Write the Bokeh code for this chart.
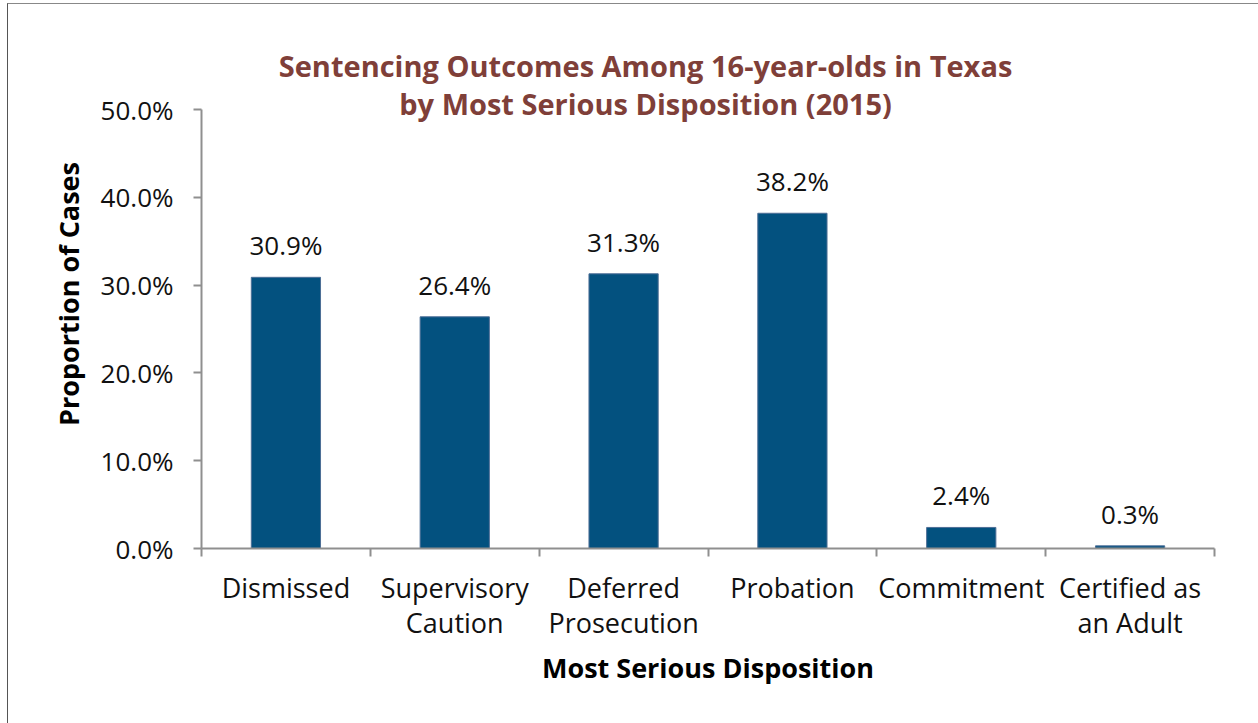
from bokeh.plotting import figure
from bokeh.models import (Range1d, FixedTicker, PrintfTickFormatter, ColumnDataSource,
                          Label)
from bokeh.core.properties import value
from bokeh.embed import file_html
from bokeh.resources import INLINE

# ---- data ----
categories = ["Dismissed", "Supervisory\nCaution", "Deferred\nProsecution",
              "Probation", "Commitment", "Certified as\nan Adult"]
values = [30.9, 26.4, 31.3, 38.2, 2.4, 0.3]
y_ticks = [0, 10, 20, 30, 40, 50]
title_lines = ["Sentencing Outcomes Among 16-year-olds in Texas",
               "by Most Serious Disposition (2015)"]
x_title = "Most Serious Disposition"
y_title = "Proportion of Cases"

FONT = "Open Sans"
TITLE_COLOR = "#7F3F39"
BAR_COLOR = "#03517F"
AXIS_COLOR = "#8F8F8F"

n = len(categories)
centers = [i + 0.5 for i in range(n)]
labels = [f"{v:.1f}%" for v in values]
src = ColumnDataSource(dict(x=centers, top=values, label=labels))

Y_MAX = 58  # headroom above the 50% axis end for the title
p = figure(frame_width=1013, frame_height=509,
           min_border_left=193, min_border_right=44,
           min_border_top=35, min_border_bottom=175,
           x_range=Range1d(0, n), y_range=Range1d(0, Y_MAX),
           output_backend="svg", toolbar_location=None)
p.styles = {"margin-left": "7px", "margin-top": "3px",
            "border-left": "1px solid #555555", "border-top": "1px solid #888888"}

p.vbar(x="x", top="top", width=0.41, source=src, fill_color=BAR_COLOR,
       line_color="#4D6E96", line_width=1)
p.text(x="x", y="top", text="label", source=src, text_align="center",
       text_baseline="alphabetic", y_offset=-32, text_font=value(FONT),
       text_font_size="26px", text_color="#111111")

p.xgrid.visible = False
p.ygrid.visible = False
p.outline_line_color = None
p.background_fill_color = "white"
p.border_fill_color = "white"

# x axis
xa = p.xaxis[0]
xa.ticker = FixedTicker(ticks=centers, minor_ticks=list(range(n + 1)))
xa.major_label_overrides = {c: lab for c, lab in zip(centers, categories)}
xa.major_tick_out = 0
xa.major_tick_in = 0
xa.minor_tick_out = 8
xa.minor_tick_in = 0
xa.minor_tick_line_color = AXIS_COLOR
xa.minor_tick_line_width = 2
xa.axis_line_color = AXIS_COLOR
xa.axis_line_width = 2
xa.major_label_text_font = FONT
xa.major_label_text_font_size = "27px"
xa.major_label_text_line_height = 0.95
xa.major_label_text_color = "#111111"
xa.major_label_standoff = 12
xa.axis_label = x_title
xa.axis_label_text_font = FONT
xa.axis_label_text_font_style = "bold"
xa.axis_label_text_font_size = "27px"
xa.axis_label_text_color = "#000000"
xa.axis_label_standoff = 5

# y axis
ya = p.yaxis[0]
ya.bounds = (0, 50)
ya.ticker = FixedTicker(ticks=y_ticks, minor_ticks=[])
ya.formatter = PrintfTickFormatter(format="%.1f%%")
ya.major_tick_out = 8
ya.major_tick_in = 0
ya.major_tick_line_color = AXIS_COLOR
ya.major_tick_line_width = 2
ya.axis_line_color = AXIS_COLOR
ya.axis_line_width = 2
ya.major_label_text_font = FONT
ya.major_label_text_font_size = "26px"
ya.major_label_text_color = "#111111"
ya.major_label_standoff = 20
ya.axis_label = y_title
ya.axis_label_text_font = FONT
ya.axis_label_text_font_style = "bold"
ya.axis_label_text_font_size = "27px"
ya.axis_label_text_color = "#000000"
ya.axis_label_standoff = 11

# title (two centred lines)
for line, yv in zip(title_lines, [55.0, 50.7]):
    p.add_layout(Label(x=2.63, y=yv, text=line, text_align="center",
                       text_baseline="middle", text_font=FONT,
                       text_font_style="bold", text_font_size="29px",
                       text_color=TITLE_COLOR))

open("out.html", "w").write(file_html(p, INLINE))
